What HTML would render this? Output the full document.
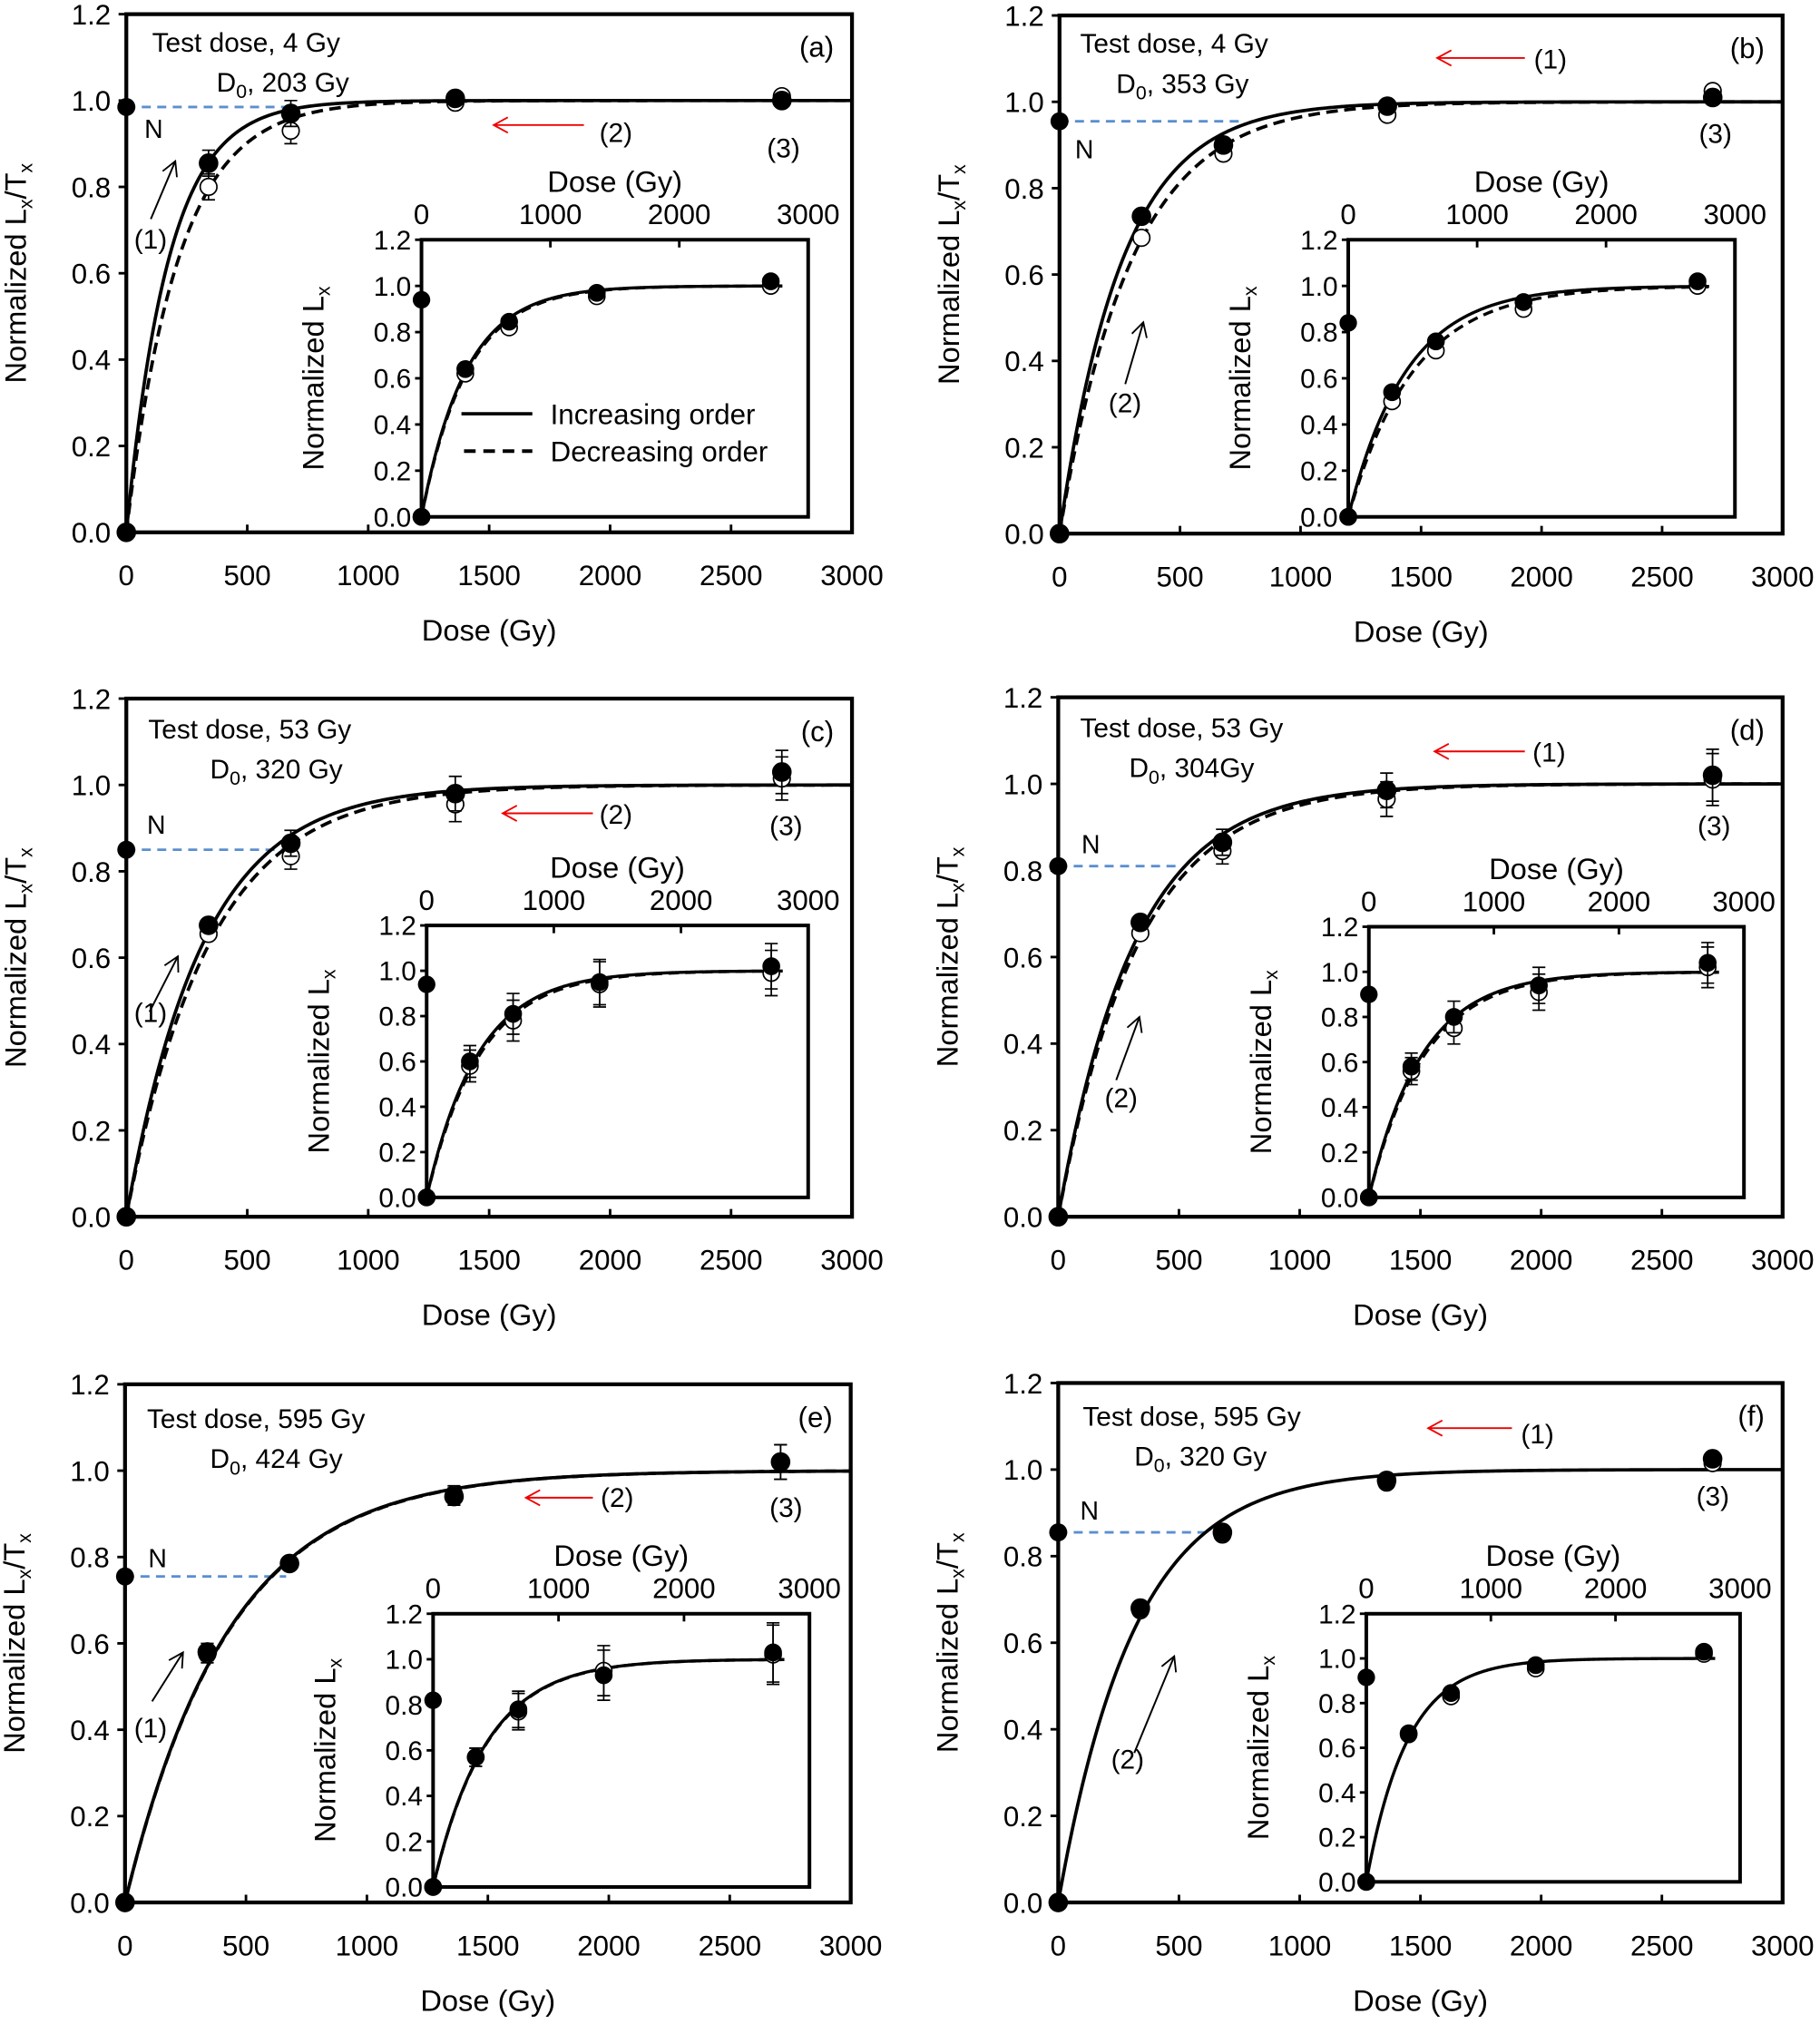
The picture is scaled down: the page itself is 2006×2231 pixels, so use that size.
<!DOCTYPE html>
<html><head><meta charset="utf-8"><style>
html,body{margin:0;padding:0;background:#fff}
svg{display:block}
text{font-family:"Liberation Sans",sans-serif;fill:#000}
</style></head><body>
<svg id="fig" xmlns="http://www.w3.org/2000/svg" width="2006" height="2231" viewBox="0 0 1412 1570.3" preserveAspectRatio="none"></svg>
<script>
// ---- data (doses shared) ----
const doses = [0, 340, 680, 1360, 2710];
const xTicks = [0, 500, 1000, 1500, 2000, 2500, 3000];
const yTicks = [0.0, 0.2, 0.4, 0.6, 0.8, 1.0, 1.2];
const insetXTicks = [0, 1000, 2000, 3000];
// panel a
const aFilled = [0, 0.855, 0.97, 1.005, 1.0];
const aOpen = [0, 0.80, 0.93, 0.995, 1.01];
const aErr = [0, 0.03, 0.03, 0.01, 0.01];
const aN = 0.985;
const aInsFilled = [0, 0.64, 0.845, 0.97, 1.02];
const aInsOpen = [0, 0.62, 0.82, 0.955, 1.0];
const aInsErr = [0, 0.02, 0.02, 0.01, 0.01];
const aInsN = 0.94;
const aD0 = [175, 215, 345, 355];
// panel b
const bFilled = [0, 0.735, 0.90, 0.99, 1.01];
const bOpen = [0, 0.685, 0.88, 0.97, 1.025];
const bErr = [0, 0.01, 0.01, 0.01, 0.01];
const bN = 0.955;
const bInsFilled = [0, 0.54, 0.76, 0.93, 1.02];
const bInsOpen = [0, 0.50, 0.72, 0.90, 1.0];
const bInsErr = [0, 0.01, 0.01, 0.01, 0.01];
const bInsN = 0.84;
const bD0 = [260, 298, 450, 506];
// panel c
const cFilled = [0, 0.675, 0.865, 0.98, 1.03];
const cOpen = [0, 0.655, 0.835, 0.955, 1.015];
const cErr = [0, 0.01, 0.03, 0.04, 0.05];
const cN = 0.85;
const cInsFilled = [0, 0.60, 0.81, 0.95, 1.02];
const cInsOpen = [0, 0.58, 0.78, 0.94, 0.99];
const cInsErr = [0, 0.07, 0.09, 0.1, 0.1];
const cInsN = 0.94;
const cD0 = [316, 343, 403, 420];
// panel d
const dFilled = [0, 0.68, 0.865, 0.985, 1.02];
const dOpen = [0, 0.655, 0.845, 0.965, 1.01];
const dErr = [0, 0.01, 0.03, 0.04, 0.06];
const dN = 0.81;
const dInsFilled = [0, 0.58, 0.80, 0.94, 1.04];
const dInsOpen = [0, 0.56, 0.75, 0.91, 1.02];
const dInsErr = [0, 0.06, 0.07, 0.08, 0.09];
const dInsN = 0.90;
const dD0 = [316, 333, 425, 445];
// panel e
const eFilled = [0, 0.58, 0.785, 0.94, 1.02];
const eOpen = [0, 0.575, 0.785, 0.945, 1.02];
const eErr = [0, 0.02, 0.01, 0.02, 0.04];
const eN = 0.755;
const eInsFilled = [0, 0.57, 0.78, 0.93, 1.03];
const eInsOpen = [0, 0.57, 0.77, 0.95, 1.02];
const eInsErr = [0, 0.04, 0.08, 0.11, 0.13];
const eInsN = 0.82;
const eD0 = [430, 432, 425, 428];
// panel f
const fFilled = [0, 0.68, 0.855, 0.975, 1.025];
const fOpen = [0, 0.675, 0.85, 0.97, 1.015];
const fErr = [0, 0.005, 0.005, 0.005, 0.005];
const fN = 0.855;
const fInsFilled = [0, 0.665, 0.845, 0.97, 1.03];
const fInsOpen = [0, 0.66, 0.83, 0.955, 1.02];
const fInsErr = [0, 0.01, 0.01, 0.01, 0.01];
const fInsN = 0.915;
const fD0 = [316, 318, 330, 332];

const NS = "http://www.w3.org/2000/svg";
const svg = document.getElementById('fig');
function mk(tag, attrs, parent, txt){
  const e = document.createElementNS(NS, tag);
  for (const k in attrs) e.setAttribute(k, attrs[k]);
  if (txt !== undefined) e.textContent = txt;
  (parent || svg).appendChild(e);
  return e;
}
const defs = mk('defs', {});
const mkA = (id, col) => { const m = mk('marker', {id:id, markerWidth:14, markerHeight:14, refX:12, refY:7, orient:'auto', markerUnits:'userSpaceOnUse'}, defs);
  mk('path', {d:'M1,1 L12,7 L1,13', fill:'none', stroke:col, 'stroke-width':1.3}, m); };
mkA('arrBlack', '#000'); mkA('arrRed', '#e00');

function curvePath(sx, sy, d0, xmax){
  let p = '';
  for (let d = 0; d <= xmax; d += 10){
    const v = 1 - Math.exp(-d / d0);
    p += (d === 0 ? 'M' : 'L') + sx(d).toFixed(2) + ',' + sy(v).toFixed(2);
  }
  return p;
}

const TF = 22, AF = 23, NF = 21;

function drawPanel(P){
  const g = mk('g', {});
  
  
  const sx = d => P.L + (d / 3000) * (P.R - P.L);
  const sy = v => P.Y0 - (v / 1.2) * (P.Y0 - P.T);
  const nl = mk('line', {x1:P.L, x2:P.nEnd, y1:sy(P.N), y2:sy(P.N), stroke:'#5b8fd0', 'stroke-width':2, 'stroke-dasharray':'7,5'}, g);
   
  const c1 = mk('path', {d:curvePath(sx, sy, P.D0[0], 3000), fill:'none', stroke:'#000', 'stroke-width':2.6}, g);
   
  if (P.dashed){
    const c2 = mk('path', {d:curvePath(sx, sy, P.D0[1], 3000), fill:'none', stroke:'#000', 'stroke-width':2.6, 'stroke-dasharray':'9,5'}, g);
     
  }
  const pts = (vals, open, err, r, sxf, syf, nm) => {
    vals.forEach((v, i) => {
      if (err[i] > 0.004){
        const x = sxf(doses[i]);
        const eb = mk('path', {d:`M${x},${syf(v-err[i])}V${syf(v+err[i])}M${x-5},${syf(v-err[i])}h10M${x-5},${syf(v+err[i])}h10`, stroke:'#000', 'stroke-width':1.2, fill:'none'}, g);
         
      }
      const c = mk('circle', {cx:sxf(doses[i]), cy:syf(v), r:r, fill:open?'#fff':'#000', stroke:'#000', 'stroke-width':1.2}, g);
       
    });
  };
  pts(P.open, true, P.err, 6.5, sx, sy, 'decreasing-point');
  pts(P.filled, false, P.err, 7, sx, sy, 'increasing-point');
  const np = mk('circle', {cx:sx(0), cy:sy(P.N), r:7, fill:'#000'}, g);
   
  const fr = mk('rect', {x:P.L, y:P.T, width:P.R-P.L, height:P.Y0-P.T, fill:'none', stroke:'#000', 'stroke-width':3}, g);
   
  xTicks.forEach(t => {
    mk('line', {x1:sx(t), x2:sx(t), y1:P.Y0, y2:P.Y0-6, stroke:'#000', 'stroke-width':2}, g);
    const tl = mk('text', {x:sx(t), y:P.Y0+41, 'font-size':TF, 'text-anchor':'middle'}, g, String(t));
     
  });
  yTicks.forEach(t => {
    mk('line', {x1:P.L, x2:P.L-6, y1:sy(t), y2:sy(t), stroke:'#000', 'stroke-width':2}, g);
    const tl = mk('text', {x:P.L-12, y:sy(t)+8, 'font-size':TF, 'text-anchor':'end'}, g, t.toFixed(1));
     
  });
  const xt = mk('text', {x:(P.L+P.R)/2, y:P.Y0+84, 'font-size':AF, 'text-anchor':'middle'}, g, 'Dose (Gy)');
   
  const yc = (P.T+P.Y0)/2, yx = P.L-78;
  const yt = mk('text', {x:yx, y:yc, 'font-size':AF, 'text-anchor':'middle', transform:`rotate(-90 ${yx} ${yc})`}, g);
   
  mk('tspan', {}, yt, 'Normalized L');
  mk('tspan', {'font-size':15, dy:5}, yt, 'x');
  mk('tspan', {dy:-5}, yt, '/T');
  mk('tspan', {'font-size':15, dy:5}, yt, 'x');
  const tt = mk('text', {x:P.tx, y:P.ty, 'font-size':NF}, g, P.testDose);
   
  const dt = mk('text', {x:P.dx, y:P.ty+31, 'font-size':NF}, g);
   
  mk('tspan', {}, dt, 'D'); mk('tspan', {'font-size':15, dy:5}, dt, '0'); mk('tspan', {dy:-5}, dt, P.d0txt);
  const pl = mk('text', {x:P.R-14, y:P.T+33, 'font-size':22, 'text-anchor':'end'}, g, '(' + P.id + ')');
   
  const nt = mk('text', {x:P.nx, y:P.ny, 'font-size':20}, g, 'N');
   
  P.notes.forEach(n => {
    if (n[6] !== null){
      const ar = mk('line', {x1:n[0], y1:n[1], x2:n[2], y2:n[3], stroke:n[6]?'#e00':'#000', 'stroke-width':1.4, 'marker-end':n[6]?'url(#arrRed)':'url(#arrBlack)'}, g);
       
    }
    const at = mk('text', {x:n[4], y:n[5], 'font-size':NF}, g, n[7]);
     
  });
  const I = P.ins;
  const ix = d => I.L + (d / 3000) * (I.R - I.L);
  const iy = v => I.B - (v / 1.2) * (I.B - I.T);
  const ig = mk('g', {}, g);
   
  mk('rect', {x:I.L, y:I.T, width:I.R-I.L, height:I.B-I.T, fill:'#fff', stroke:'none'}, ig);
  const ic1 = mk('path', {d:curvePath(ix, iy, P.D0[2], 2800), fill:'none', stroke:'#000', 'stroke-width':2.4}, ig);
   
  if (P.dashed){
    const ic2 = mk('path', {d:curvePath(ix, iy, P.D0[3], 2800), fill:'none', stroke:'#000', 'stroke-width':2.4, 'stroke-dasharray':'8,5'}, ig);
     
  }
  const ipts = (vals, open, err, nm) => {
    vals.forEach((v, i) => {
      if (err[i] > 0.004){
        const x = ix(doses[i]);
        const eb = mk('path', {d:`M${x},${iy(v-err[i])}V${iy(v+err[i])}M${x-5},${iy(v-err[i])}h10M${x-5},${iy(v+err[i])}h10`, stroke:'#000', 'stroke-width':1.2, fill:'none'}, ig);
         
      }
      const c = mk('circle', {cx:ix(doses[i]), cy:iy(v), r:6.3, fill:open?'#fff':'#000', stroke:'#000', 'stroke-width':1.2}, ig);
       
    });
  };
  ipts(P.insOpen, true, P.insErr, 'inset-decreasing-point');
  ipts(P.insFilled, false, P.insErr, 'inset-increasing-point');
  const inp = mk('circle', {cx:ix(0), cy:iy(P.insN), r:6.8, fill:'#000'}, ig);
   
  mk('rect', {x:I.L, y:I.T, width:I.R-I.L, height:I.B-I.T, fill:'none', stroke:'#000', 'stroke-width':2.8}, ig);
  insetXTicks.forEach(t => {
    mk('line', {x1:ix(t), x2:ix(t), y1:I.T, y2:I.T+6, stroke:'#000', 'stroke-width':2}, ig);
    const tl = mk('text', {x:ix(t), y:I.T-12, 'font-size':TF, 'text-anchor':'middle'}, ig, String(t));
     
  });
  yTicks.forEach(t => {
    mk('line', {x1:I.L, x2:I.L-5, y1:iy(t), y2:iy(t), stroke:'#000', 'stroke-width':2}, ig);
    const tl = mk('text', {x:I.L-8, y:iy(t)+7.5, 'font-size':TF-1, 'text-anchor':'end'}, ig, t.toFixed(1));
     
  });
  const ixt = mk('text', {x:(I.L+I.R)/2, y:I.T-37, 'font-size':AF, 'text-anchor':'middle'}, ig, 'Dose (Gy)');
   
  const icy = (I.T+I.B)/2, icx = I.L-76;
  const iyt = mk('text', {x:icx, y:icy, 'font-size':AF, 'text-anchor':'middle', transform:`rotate(-90 ${icx} ${icy})`}, ig);
   
  mk('tspan', {}, iyt, 'Normalized L'); mk('tspan', {'font-size':15, dy:5}, iyt, 'x');
  if (P.legend){
    const lg = mk('g', {}, ig);
     
    mk('line', {x1:358, x2:413, y1:321, y2:321, stroke:'#000', 'stroke-width':2.6}, lg);
    const l1 = mk('text', {x:427, y:329, 'font-size':22}, lg, 'Increasing order');
     
    mk('line', {x1:360, x2:413, y1:350, y2:350, stroke:'#000', 'stroke-width':2.8, 'stroke-dasharray':'9,6'}, lg);
    const l2 = mk('text', {x:427, y:358, 'font-size':22}, lg, 'Decreasing order');
     
  }
}

drawPanel({id:'a', L:98, R:661, T:11, Y0:413, filled:aFilled, open:aOpen, err:aErr, N:aN, insFilled:aInsFilled, insOpen:aInsOpen, insErr:aInsErr, insN:aInsN, D0:aD0, dashed:true, legend:true,
  nEnd:225, testDose:'Test dose, 4 Gy', tx:118, ty:40, dx:168, d0txt:', 203 Gy', nx:112, ny:107,
  notes:[[117,170,136,125,104,193,false,'(1)'],[453,97,383,97,465,110,true,'(2)'],[0,0,0,0,595,122,null,'(3)']],
  ins:{L:327, R:627, T:186, B:401}});
drawPanel({id:'b', L:822, R:1383, T:12, Y0:414, filled:bFilled, open:bOpen, err:bErr, N:bN, insFilled:bInsFilled, insOpen:bInsOpen, insErr:bInsErr, insN:bInsN, D0:bD0, dashed:true,
  nEnd:965, testDose:'Test dose, 4 Gy', tx:838, ty:41, dx:866, d0txt:', 353 Gy', nx:834, ny:123,
  notes:[[1183,45,1115,45,1190,53,true,'(1)'],[0,0,0,0,1318,111,null,'(3)'],[873,298,887,250,860,320,false,'(2)']],
  ins:{L:1046, R:1346, T:186, B:401}});
drawPanel({id:'c', L:98, R:661, T:542, Y0:944, filled:cFilled, open:cOpen, err:cErr, N:cN, insFilled:cInsFilled, insOpen:cInsOpen, insErr:cInsErr, insN:cInsN, D0:cD0, dashed:true,
  nEnd:221, testDose:'Test dose, 53 Gy', tx:115, ty:573, dx:163, d0txt:', 320 Gy', nx:114, ny:647,
  notes:[[116,785,138,742,104,793,false,'(1)'],[460,631,390,631,465,639,true,'(2)'],[0,0,0,0,597,648,null,'(3)']],
  ins:{L:331, R:627, T:718, B:929}});
drawPanel({id:'d', L:821, R:1383, T:541, Y0:944, filled:dFilled, open:dOpen, err:dErr, N:dN, insFilled:dInsFilled, insOpen:dInsOpen, insErr:dInsErr, insN:dInsN, D0:dD0, dashed:true,
  nEnd:915, testDose:'Test dose, 53 Gy', tx:838, ty:572, dx:876, d0txt:', 304Gy', nx:839, ny:662,
  notes:[[1183,583,1113,583,1189,591,true,'(1)'],[0,0,0,0,1317,648,null,'(3)'],[866,838,884,789,857,859,false,'(2)']],
  ins:{L:1062, R:1353, T:719, B:929}});
drawPanel({id:'e', L:97, R:660, T:1074, Y0:1476, filled:eFilled, open:eOpen, err:eErr, N:eN, insFilled:eInsFilled, insOpen:eInsOpen, insErr:eInsErr, insN:eInsN, D0:eD0, dashed:true,
  nEnd:222, testDose:'Test dose, 595 Gy', tx:114, ty:1108, dx:163, d0txt:', 424 Gy', nx:115, ny:1216,
  notes:[[118,1320,142,1282,104,1348,false,'(1)'],[460,1162,408,1162,466,1169,true,'(2)'],[0,0,0,0,597,1177,null,'(3)']],
  ins:{L:336, R:628, T:1252, B:1464}});
drawPanel({id:'f', L:821, R:1383, T:1073, Y0:1476, filled:fFilled, open:fOpen, err:fErr, N:fN, insFilled:fInsFilled, insOpen:fInsOpen, insErr:fInsErr, insN:fInsN, D0:fD0, dashed:false,
  nEnd:948, testDose:'Test dose, 595 Gy', tx:840, ty:1106, dx:880, d0txt:', 320 Gy', nx:838, ny:1179,
  notes:[[1173,1108,1108,1108,1180,1120,true,'(1)'],[0,0,0,0,1316,1168,null,'(3)'],[880,1360,911,1285,862,1372,false,'(2)']],
  ins:{L:1060, R:1350, T:1252, B:1460}});
</script>
</body></html>
